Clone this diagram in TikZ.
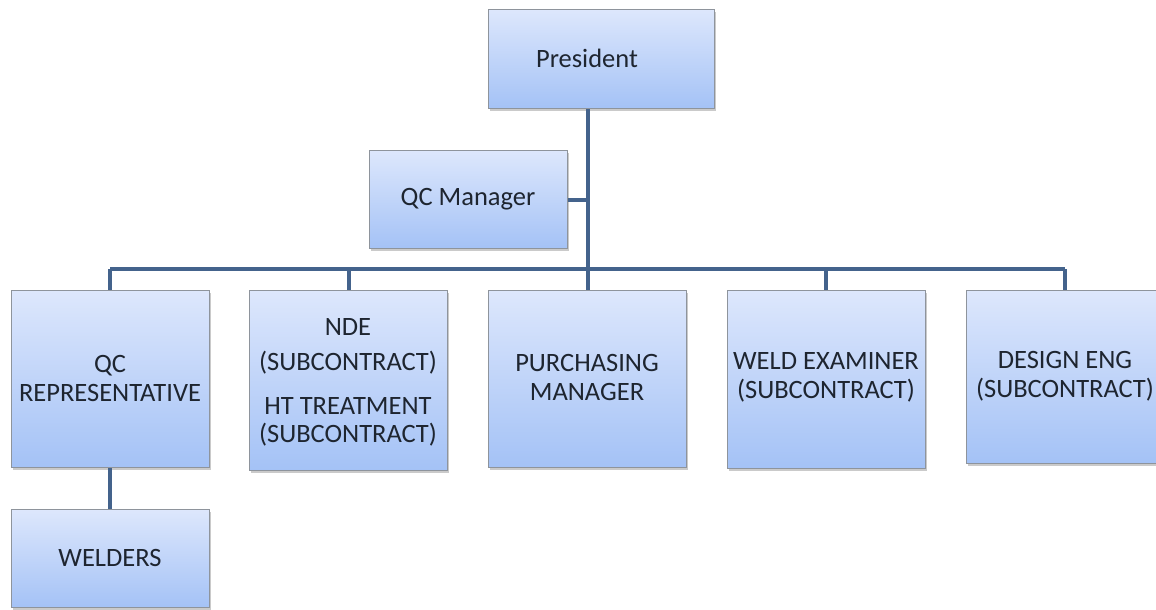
\documentclass[tikz,border=0pt]{standalone}
\usepackage{fontspec}
\setmainfont{Carlito}
\usetikzlibrary{shadows}
\definecolor{boxtop}{HTML}{DDE7FC}
\definecolor{boxbot}{HTML}{A4C2F6}
\definecolor{boxline}{HTML}{8E949C}
\definecolor{conn}{HTML}{44638C}
\definecolor{txt}{HTML}{1E2530}
\tikzset{
  orgbox/.style={draw=boxline, line width=1pt, top color=boxtop, bottom color=boxbot,
    minimum width=198pt, inner sep=0pt, anchor=north west,
    drop shadow={shadow xshift=1.5pt, shadow yshift=-2.5pt, opacity=0.35, fill=black!60}},
  lbl/.style={font=\fontsize{26.5}{29}\selectfont, text=txt, align=center},
  conn/.style={draw=conn, line width=4pt}
}
\begin{document}
\begin{tikzpicture}[x=1pt,y=-1pt]
\useasboundingbox (0,0) rectangle (1156,610);
% boxes
\node[orgbox, minimum width=226pt, minimum height=99pt] (pres) at (488,9) {};
\node[orgbox, minimum height=98pt] (qcm) at (369,150) {};
\node[orgbox, minimum height=177pt] (qcr) at (11,290) {};
\node[orgbox, minimum height=180pt] (nde) at (249,290) {};
\node[orgbox, minimum height=177pt] (pur) at (488,290) {};
\node[orgbox, minimum height=178pt] (weld) at (727,290) {};
\node[orgbox, minimum height=173pt] (des) at (966,290) {};
\node[orgbox, minimum height=98pt] (wel) at (11,509) {};
% connectors
\coordinate (trunktop) at (588,108);
\coordinate (busmid) at (588,269);
\coordinate (busl) at (110,269);
\coordinate (busn) at (349,269);
\coordinate (busw) at (826,269);
\coordinate (busr) at (1065,269);
\draw[conn] (pres.south -| trunktop) -- (busmid);
\draw[conn] (qcm.east) -- (qcm.east -| trunktop);
\draw[conn] (busl) -- (busr);
\draw[conn] (busl) -- (qcr.north -| busl);
\draw[conn] (busn) -- (nde.north -| busn);
\draw[conn] (busmid) -- (pur.north -| busmid);
\draw[conn] (busw) -- (weld.north -| busw);
\draw[conn] (busr) -- (des.north -| busr);
\draw[conn] (qcr.south -| busl) -- (wel.north -| busl);
% labels
\node[lbl] (tpres) at (587,58) {President};
\node[lbl] (tqcm) at (468,199) {QC Manager};
\node[lbl] (tqcr) at (110,378) {QC\\REPRESENTATIVE};
\node[lbl] (tnde1) at (348,327) {NDE};
\node[lbl] (tnde2) at (348,363) {(SUBCONTRACT)};
\node[lbl] (tnde3) at (348,406) {HT TREATMENT};
\node[lbl] (tnde4) at (348,435) {(SUBCONTRACT)};
\node[lbl] (tpur) at (587,377) {PURCHASING\\MANAGER};
\node[lbl] (tweld) at (826,377) {WELD EXAMINER\\(SUBCONTRACT)};
\node[lbl] (tdes) at (1065,376) {DESIGN ENG\\(SUBCONTRACT)};
\node[lbl] (twel) at (110,558) {WELDERS};
\end{tikzpicture}
\end{document}
